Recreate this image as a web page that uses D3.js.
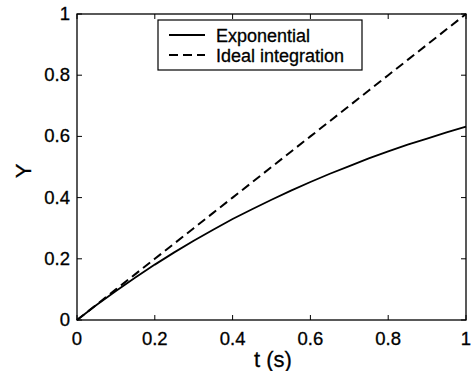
<!DOCTYPE html>
<html><head><meta charset="utf-8">
<script src="https://cdn.jsdelivr.net/npm/d3@7"></script>
<style>body{margin:0;background:#fff}svg{display:block}text{font-family:"Liberation Sans",Arial,sans-serif;fill:#000;stroke:#000;stroke-width:0.3}</style>
</head><body><svg id="c" width="473" height="371"></svg>
<script>
const tValues = [0,0.05,0.1,0.15,0.2,0.25,0.3,0.35,0.4,0.45,0.5,0.55,0.6,0.65,0.7,0.75,0.8,0.85,0.9,0.95,1];
const exponential = [0,0.049,0.095,0.139,0.181,0.221,0.259,0.295,0.330,0.362,0.393,0.423,0.451,0.478,0.503,0.528,0.551,0.573,0.593,0.613,0.632];
const idealIntegration = [0,0.05,0.1,0.15,0.2,0.25,0.3,0.35,0.4,0.45,0.5,0.55,0.6,0.65,0.7,0.75,0.8,0.85,0.9,0.95,1];
const xTicks = [0,0.2,0.4,0.6,0.8,1];
const yTicks = [0,0.2,0.4,0.6,0.8,1];
const seriesNames = ["Exponential","Ideal integration"];

const svg = d3.select("#c");
const L=77,R=466,T=14,B=320;
const x = d3.scaleLinear().domain([0,1]).range([L,R]);
const y = d3.scaleLinear().domain([0,1]).range([B,T]);
const fmt = d => d===0?"0":d===1?"1":String(d);

const g = svg.append("g");
const tl=5;
xTicks.forEach(v=>{
  g.append("line").attr("x1",x(v)).attr("x2",x(v)).attr("y1",B).attr("y2",B-tl).attr("stroke","#000");
  g.append("line").attr("x1",x(v)).attr("x2",x(v)).attr("y1",T).attr("y2",T+tl).attr("stroke","#000");
  g.append("text").attr("x",x(v)).attr("y",345).attr("text-anchor","middle").attr("font-size",18.5).text(fmt(v));
});
yTicks.forEach(v=>{
  g.append("line").attr("y1",y(v)).attr("y2",y(v)).attr("x1",L).attr("x2",L+tl).attr("stroke","#000");
  g.append("line").attr("y1",y(v)).attr("y2",y(v)).attr("x1",R).attr("x2",R-tl).attr("stroke","#000");
  g.append("text").attr("x",70).attr("y",y(v)+6).attr("text-anchor","end").attr("font-size",18.5).text(fmt(v));
});
g.append("rect").attr("x",L).attr("y",T).attr("width",R-L).attr("height",B-T).attr("fill","none").attr("stroke","#000").attr("stroke-width",1.3);

const line = d3.line().x((d,i)=>x(tValues[i])).y(d=>y(d));
svg.append("path").datum(idealIntegration).attr("d",line).attr("fill","none").attr("stroke","#000").attr("stroke-width",2).attr("stroke-dasharray","9,5");
svg.append("path").datum(exponential).attr("d",line).attr("fill","none").attr("stroke","#000").attr("stroke-width",1.8);

svg.append("text").attr("x",273).attr("y",367).attr("text-anchor","middle").attr("font-size",22).text("t (s)");
svg.append("text").attr("transform","translate(31,171) rotate(-90)").attr("text-anchor","middle").attr("font-size",22).text("Y");

const lg = svg.append("g");
lg.append("rect").attr("x",158).attr("y",20).attr("width",204).attr("height",50).attr("fill","#fff").attr("stroke","#000").attr("stroke-width",1.2);
lg.append("line").attr("x1",169).attr("x2",205).attr("y1",35).attr("y2",35).attr("stroke","#000").attr("stroke-width",1.8);
lg.append("line").attr("x1",169).attr("x2",205).attr("y1",55).attr("y2",55).attr("stroke","#000").attr("stroke-width",2).attr("stroke-dasharray","9,5");
lg.append("text").attr("x",216).attr("y",41.5).attr("font-size",18).text(seriesNames[0]);
lg.append("text").attr("x",216).attr("y",61.5).attr("font-size",18).text(seriesNames[1]);
</script></body></html>
